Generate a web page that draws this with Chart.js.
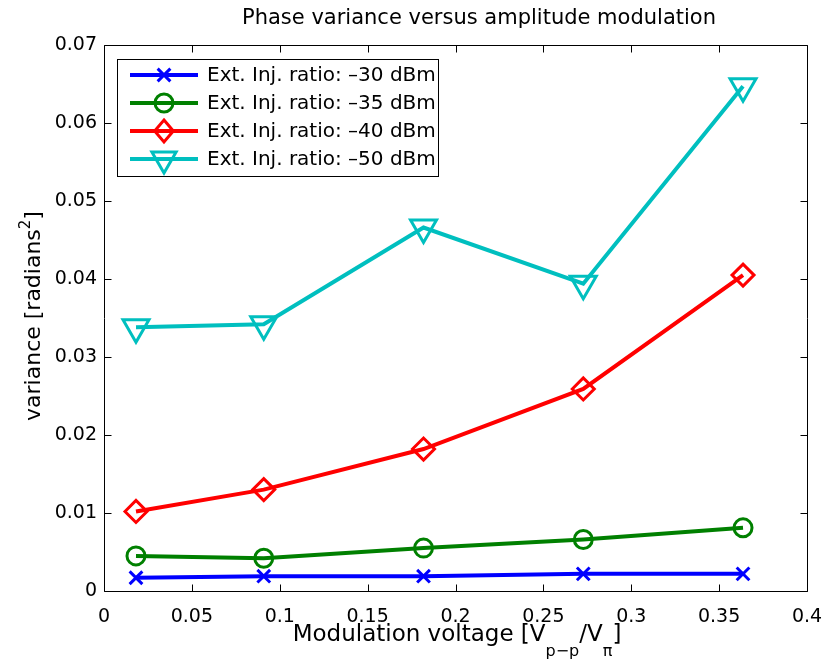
<!DOCTYPE html>
<html lang="en">
<head>
  <meta charset="UTF-8">
  <title>Phase variance versus amplitude modulation</title>
  <script src="https://cdn.jsdelivr.net/npm/chart.js"></script>
  <style>
    body { margin: 0; background: #fff; }
    #chart { display: block; }
  </style>
</head>
<body>
  <canvas id="chart" width="827" height="670"></canvas>
  <script>
    // values
    const modVoltage = [0.0182, 0.0909, 0.1818, 0.2727, 0.3636];
    const seriesLabels = [
      'Ext. Inj. ratio: \u201330 dBm',
      'Ext. Inj. ratio: \u201335 dBm',
      'Ext. Inj. ratio: \u201340 dBm',
      'Ext. Inj. ratio: \u201350 dBm'
    ];
    const inj30 = [0.0017, 0.0019, 0.0019, 0.0022, 0.0022];
    const inj35 = [0.0045, 0.0042, 0.0055, 0.0066, 0.0081];
    const inj40 = [0.0102, 0.0130, 0.0182, 0.0259, 0.0405];
    const inj50 = [0.0338, 0.0342, 0.0466, 0.0394, 0.0647];
    const xTicks = [0, 0.05, 0.1, 0.15, 0.2, 0.25, 0.3, 0.35, 0.4];
    const yTicks = [0, 0.01, 0.02, 0.03, 0.04, 0.05, 0.06, 0.07];

    const FONT = '"DejaVu Sans", sans-serif';
    const colors = ['#0000ff', '#008000', '#ff0000', '#00bfbf'];
    const markers = [
      { style: 'crossRot', radius: 9, rotation: 0 },
      { style: 'circle', radius: 9, rotation: 0 },
      { style: 'rectRot', radius: 11, rotation: 0 },
      { style: 'triangle', radius: 15, rotation: 180 }
    ];
    const values = [inj30, inj35, inj40, inj50];

    const datasets = values.map((vals, i) => ({
      label: seriesLabels[i],
      data: vals.map((v, j) => ({ x: modVoltage[j], y: v })),
      borderColor: colors[i],
      borderWidth: 4,
      pointStyle: markers[i].style,
      pointRadius: markers[i].radius,
      pointRotation: markers[i].rotation,
      pointBorderColor: colors[i],
      pointBackgroundColor: 'rgba(0,0,0,0)',
      pointBorderWidth: 3,
      tension: 0,
      fill: false
    }));

    function fmt(v) {
      return String(Number(v.toFixed(3)));
    }

    // legend markers, drawn by hand
    function drawMarker(ctx, style, x, y, r, color) {
      ctx.save();
      ctx.strokeStyle = color;
      ctx.lineWidth = 3;
      ctx.beginPath();
      if (style === 'crossRot') {
        const d = r * Math.SQRT1_2;
        ctx.moveTo(x - d, y - d); ctx.lineTo(x + d, y + d);
        ctx.moveTo(x - d, y + d); ctx.lineTo(x + d, y - d);
      } else if (style === 'circle') {
        ctx.arc(x, y, r, 0, Math.PI * 2);
      } else if (style === 'rectRot') {
        ctx.moveTo(x, y - r); ctx.lineTo(x + r * 0.85, y);
        ctx.lineTo(x, y + r); ctx.lineTo(x - r * 0.85, y);
        ctx.closePath();
      } else if (style === 'triangle') {
        const w = r * Math.sqrt(3) / 2;
        ctx.moveTo(x - w, y - r / 2); ctx.lineTo(x + w, y - r / 2);
        ctx.lineTo(x, y + r); ctx.closePath();
      }
      ctx.stroke();
      ctx.restore();
    }

    // box, inward ticks, title, axis labels and legend
    const matlabFrame = {
      id: 'matlabFrame',
      afterDraw(chart) {
        const ctx = chart.ctx;
        const area = chart.chartArea;
        const xs = chart.scales.x, ys = chart.scales.y;
        const L = Math.round(area.left) + 0.5, R = Math.round(area.right) + 0.5;
        const T = Math.round(area.top) + 0.5, B = Math.round(area.bottom) + 0.5;
        ctx.save();
        ctx.strokeStyle = '#000';
        ctx.lineWidth = 1;
        ctx.beginPath();
        ctx.rect(L, T, R - L, B - T);
        const tl = 7;
        xTicks.forEach(v => {
          const px = Math.round(xs.getPixelForValue(v)) + 0.5;
          ctx.moveTo(px, B); ctx.lineTo(px, B - tl);
          ctx.moveTo(px, T); ctx.lineTo(px, T + tl);
        });
        yTicks.forEach(v => {
          const py = Math.round(ys.getPixelForValue(v)) + 0.5;
          ctx.moveTo(L, py); ctx.lineTo(L + tl, py);
          ctx.moveTo(R, py); ctx.lineTo(R - tl, py);
        });
        ctx.stroke();

        // title
        ctx.fillStyle = '#000';
        ctx.font = '21px ' + FONT;
        ctx.textAlign = 'center';
        ctx.textBaseline = 'middle';
        ctx.fillText('Phase variance versus amplitude modulation', 479, 19);

        // x axis label with subscripts
        const big = '23px ' + FONT, small = '16px ' + FONT;
        const parts = [
          ['Modulation voltage [V', big, 0],
          ['p\u2212p', small, 15],
          ['/V', big, 0],
          ['\u03c0', small, 15],
          [']', big, 0]
        ];
        let total = 0;
        parts.forEach(p => { ctx.font = p[1]; total += ctx.measureText(p[0]).width; });
        let cx = 457 - total / 2;
        ctx.textAlign = 'left';
        ctx.textBaseline = 'alphabetic';
        parts.forEach(p => {
          ctx.font = p[1];
          ctx.fillText(p[0], cx, 641 + p[2]);
          cx += ctx.measureText(p[0]).width;
        });

        // y axis label with superscript
        ctx.save();
        ctx.translate(40, 316);
        ctx.rotate(-Math.PI / 2);
        const yparts = [
          ['variance [radians', '22px ' + FONT, 0],
          ['2', '15px ' + FONT, -10],
          [']', '22px ' + FONT, 0]
        ];
        total = 0;
        yparts.forEach(p => { ctx.font = p[1]; total += ctx.measureText(p[0]).width; });
        cx = -total / 2;
        yparts.forEach(p => {
          ctx.font = p[1];
          ctx.fillText(p[0], cx, p[2]);
          cx += ctx.measureText(p[0]).width;
        });
        ctx.restore();

        // legend box
        const bx = 117.5, by = 59.5, bw = 321, bh = 117;
        ctx.fillStyle = '#fff';
        ctx.fillRect(bx, by, bw, bh);
        ctx.strokeStyle = '#000';
        ctx.lineWidth = 1;
        ctx.strokeRect(bx, by, bw, bh);
        ctx.font = '20px ' + FONT;
        ctx.textBaseline = 'middle';
        chart.data.datasets.forEach((ds, i) => {
          const ry = 75 + i * 28;
          ctx.strokeStyle = ds.borderColor;
          ctx.lineWidth = 4;
          ctx.beginPath();
          ctx.moveTo(130, ry); ctx.lineTo(198, ry);
          ctx.stroke();
          drawMarker(ctx, ds.pointStyle, 164, ry, ds.pointStyle === 'triangle' ? 14 : (ds.pointStyle === 'rectRot' ? 11 : 9), ds.borderColor);
          ctx.fillStyle = '#000';
          ctx.fillText(ds.label, 207, ry + 1);
        });
        ctx.restore();
      }
    };

    new Chart(document.getElementById('chart').getContext('2d'), {
      type: 'line',
      data: { datasets },
      options: {
        responsive: false,
        animation: false,
        devicePixelRatio: 1,
        layout: { padding: { top: 45, right: 20, left: 0, bottom: 0 } },
        plugins: { legend: { display: false }, title: { display: false }, tooltip: { enabled: false } },
        scales: {
          x: {
            type: 'linear',
            min: 0,
            max: 0.4,
            afterBuildTicks: s => { s.ticks = xTicks.map(v => ({ value: v })); },
            afterFit: s => { s.height = 79; s.paddingLeft = 0; s.paddingRight = 0; },
            grid: { display: false, drawTicks: false },
            border: { display: false },
            ticks: { color: '#000', font: { family: FONT, size: 19 }, padding: 15, maxRotation: 0, autoSkip: false, callback: v => fmt(v) }
          },
          y: {
            type: 'linear',
            min: 0,
            max: 0.07,
            afterBuildTicks: s => { s.ticks = yTicks.map(v => ({ value: v })); },
            afterFit: s => { s.width = 104; s.paddingTop = 0; s.paddingBottom = 0; },
            grid: { display: false, drawTicks: false },
            border: { display: false },
            ticks: { color: '#000', font: { family: FONT, size: 19 }, padding: 7, autoSkip: false, callback: v => fmt(v) }
          }
        }
      },
      plugins: [matlabFrame]
    });
  </script>
</body>
</html>
